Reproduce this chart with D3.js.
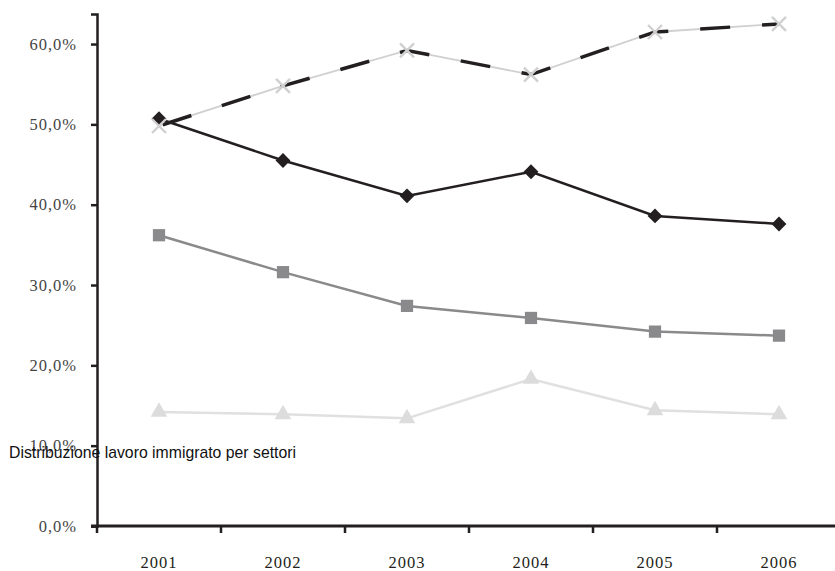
<!DOCTYPE html>
<html>
<head>
<meta charset="utf-8">
<script src="https://cdn.jsdelivr.net/npm/d3@7"></script>
<style>
  body { margin: 0; background: #fff; }
  svg { display: block; }
</style>
</head>
<body>
<div id="chart"></div>
<script>
// data
const years = ['2001', '2002', '2003', '2004', '2005', '2006']
const yTicks = [0, 0.1, 0.2, 0.3, 0.4, 0.5, 0.6]
const diamondSeries = [0.507, 0.455, 0.411, 0.441, 0.386, 0.376]
const crossSeries = [0.498, 0.548, 0.592, 0.562, 0.615, 0.625]
const squareSeries = [0.362, 0.316, 0.274, 0.259, 0.242, 0.237]
const triangleSeries = [0.142, 0.139, 0.134, 0.183, 0.144, 0.139]
const title = 'Distribuzione lavoro immigrato per settori'

const width = 835
const height = 571
const axisColor = '#231f20'
const serif = '"Liberation Serif", "Times New Roman", serif'

const svg = d3.select('#chart')
  .append('svg')
  .attr('width', width)
  .attr('height', height)

const x = d3.scaleBand()
  .domain(years)
  .range([97, 841])
  .paddingInner(0)

const y = d3.scaleLinear()
  .domain([0, 0.6374])
  .range([526, 14])

const cx = (d, i) => x(years[i]) + x.bandwidth() / 2
const fmt = v => d3.format('.1f')(v * 100).replace('.', ',') + '%'

// y axis
const yAxis = svg.append('g')
  .attr('transform', 'translate(97,0)')
  .call(d3.axisLeft(y).tickValues(yTicks).tickFormat(fmt).tickSize(6).tickPadding(14))
yAxis.select('.domain').attr('stroke', axisColor).attr('stroke-width', 2.5)
yAxis.selectAll('.tick line').attr('stroke', axisColor).attr('stroke-width', 2.5)
yAxis.selectAll('.tick text')
  .attr('fill', '#444')
  .style('font-family', serif)
  .style('font-size', '16.5px')
  .style('letter-spacing', '1px')

// x axis: labels at the centre of each band, ticks at band edges
const xAxis = svg.append('g')
  .attr('transform', 'translate(0,526)')
  .call(d3.axisBottom(x).tickSize(0).tickPadding(30))
xAxis.select('.domain').remove()
xAxis.selectAll('.tick text')
  .attr('fill', '#231f20')
  .style('font-family', serif)
  .style('font-size', '16.5px')
  .style('letter-spacing', '1px')

svg.append('line')
  .attr('x1', 91).attr('x2', width)
  .attr('y1', 526).attr('y2', 526)
  .attr('stroke', axisColor)
  .attr('stroke-width', 3)

svg.selectAll('.xtick')
  .data(years)
  .enter()
  .append('line')
  .attr('class', 'xtick')
  .attr('x1', d => x(d)).attr('x2', d => x(d))
  .attr('y1', 526).attr('y2', 533)
  .attr('stroke', axisColor)
  .attr('stroke-width', 2.5)

const line = d3.line()
  .x(cx)
  .y(d => y(d))

// triangle series
svg.append('path')
  .datum(triangleSeries)
  .attr('d', line)
  .attr('fill', 'none')
  .attr('stroke', '#e0e0e0')
  .attr('stroke-width', 2.5)
svg.selectAll('.tri')
  .data(triangleSeries)
  .enter()
  .append('path')
  .attr('class', 'tri')
  .attr('transform', (d, i) => `translate(${cx(d, i)},${y(d)})`)
  .attr('d', d3.symbol().type(d3.symbolTriangle).size(120))
  .attr('fill', '#dcdcdc')

// square series
svg.append('path')
  .datum(squareSeries)
  .attr('d', line)
  .attr('fill', 'none')
  .attr('stroke', '#8a8a8c')
  .attr('stroke-width', 2.5)
svg.selectAll('.sq')
  .data(squareSeries)
  .enter()
  .append('path')
  .attr('class', 'sq')
  .attr('transform', (d, i) => `translate(${cx(d, i)},${y(d)})`)
  .attr('d', d3.symbol().type(d3.symbolSquare).size(150))
  .attr('fill', '#8a8a8c')

// cross series: light line with black dashes on top
svg.append('path')
  .datum(crossSeries)
  .attr('d', line)
  .attr('fill', 'none')
  .attr('stroke', '#d0d0d0')
  .attr('stroke-width', 1.8)
svg.append('path')
  .datum(crossSeries)
  .attr('d', line)
  .attr('fill', 'none')
  .attr('stroke', axisColor)
  .attr('stroke-width', 3.5)
  .attr('stroke-dasharray', '30,32')
  .attr('stroke-dashoffset', -4)

// diamond series
svg.append('path')
  .datum(diamondSeries)
  .attr('d', line)
  .attr('fill', 'none')
  .attr('stroke', axisColor)
  .attr('stroke-width', 2.5)
svg.selectAll('.dia')
  .data(diamondSeries)
  .enter()
  .append('path')
  .attr('class', 'dia')
  .attr('transform', (d, i) => `translate(${cx(d, i)},${y(d)}) rotate(45)`)
  .attr('d', d3.symbol().type(d3.symbolSquare).size(110))
  .attr('fill', axisColor)

svg.selectAll('.cross')
  .data(crossSeries)
  .enter()
  .append('path')
  .attr('class', 'cross')
  .attr('transform', (d, i) => `translate(${cx(d, i)},${y(d)})`)
  .attr('d', 'M-7,-7L7,7M-7,7L7,-7')
  .attr('stroke', '#d0d0d0')
  .attr('stroke-width', 2.4)
  .attr('fill', 'none')

// title sits over the 10% label as in the original
svg.append('text')
  .attr('x', 9)
  .attr('y', 458)
  .attr('fill', '#111')
  .style('font-family', '"Liberation Sans", Arial, sans-serif')
  .style('font-size', '17px')
  .attr('textLength', 287)
  .attr('lengthAdjust', 'spacingAndGlyphs')
  .text(title)
</script>
</body>
</html>
